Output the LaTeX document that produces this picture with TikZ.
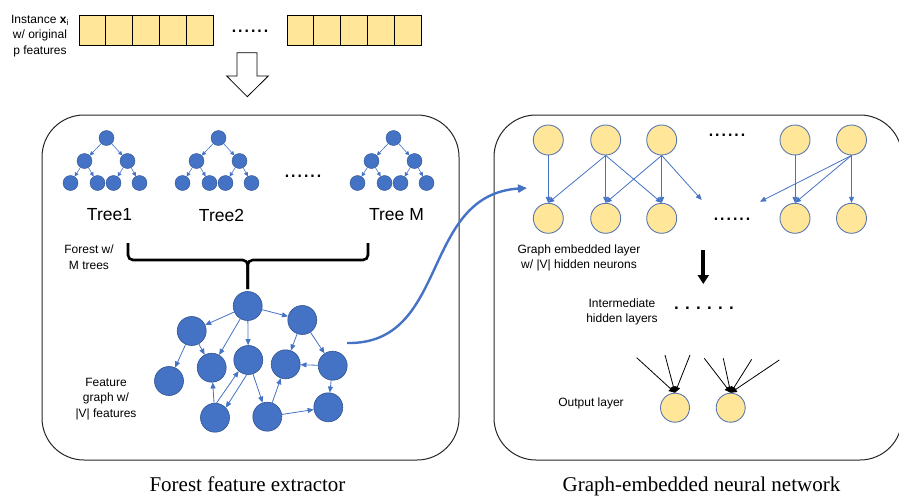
\documentclass[tikz,border=0pt]{standalone}
\usepackage{fontspec}
\setmainfont{Liberation Sans}
\newfontfamily\captionserif{Liberation Serif}
\usetikzlibrary{positioning, arrows.meta, calc}

\definecolor{nodeblue}{HTML}{4472C4}
\definecolor{nodeline}{HTML}{2F528F}
\definecolor{neuronfill}{HTML}{FFE699}
\definecolor{neuronline}{HTML}{5A78B0}

\tikzset{
    treenode/.style={circle, fill=nodeblue, draw=nodeline, line width=0.4pt, minimum size=15pt, inner sep=0pt},
    featnode/.style={circle, fill=nodeblue, draw=nodeline, line width=0.6pt, minimum size=29pt, inner sep=0pt},
    neuron/.style={circle, fill=neuronfill, draw=neuronline, line width=0.9pt, minimum size=30pt, inner sep=0pt},
    cell/.style={rectangle, fill=neuronfill, draw=black, line width=0.9pt, minimum width=26.8pt, minimum height=30pt, inner sep=0pt},
    treeedge/.style={-{Triangle[length=4pt,width=4pt]}, nodeblue, line width=0.6pt},
    blueedge/.style={-{Triangle[length=6pt,width=5pt]}, nodeblue, line width=0.8pt},
    inedge/.style={-{Triangle[length=6pt,width=6pt]}, black, line width=0.8pt},
    panel/.style={draw=black!85, line width=1pt, rounded corners=42pt},
    smalltext/.style={font=\fontsize{12}{15.5}\selectfont, align=center, inner sep=0pt},
    treetext/.style={font=\fontsize{17.5}{20}\selectfont, inner sep=0pt},
    captext/.style={font=\captionserif\fontsize{21}{24}\selectfont, inner sep=0pt, anchor=base},
    dotstext/.style={font=\fontsize{23}{23}\selectfont, inner sep=0pt},
}

% one small binary tree: #1 prefix, #2 root x, #3 label
\def\foresttree#1#2#3{%
    \node[treenode] (#1r) at (#2, 138) {};
    \node[treenode] (#1a) at (#2-22, 161) {};
    \node[treenode] (#1b) at (#2+21, 161) {};
    \node[treenode] (#1aa) at (#2-36, 183) {};
    \node[treenode] (#1ab) at (#2-9, 183) {};
    \node[treenode] (#1ba) at (#2+7, 183) {};
    \node[treenode] (#1bb) at (#2+33, 183) {};
    \foreach \pa/\ch in {r/a, r/b, a/aa, a/ab, b/ba, b/bb}
    {
        \draw[treeedge] (#1\pa) -- (#1\ch);
    }
    \node[treetext] (#1lab) at (#2+3, 215) {#3};
}

\begin{document}
\begin{tikzpicture}[x=1pt, y=-1pt]
    \useasboundingbox (0,0) rectangle (899,495);

    % input instance
    \node[smalltext, anchor=east] (instlab) at (69,36)
        {Instance \textbf{x}\textsubscript{i}\\w/ original\\p features};
    \foreach \i in {0,...,4}
    {
        \node[cell] (la\i) at (92.4+\i*26.8, 30) {};
        \node[cell] (lb\i) at (300.4+\i*26.8, 30) {};
    }
    \node[dotstext] (celldots) at (250,31) {......};

    % hollow arrow
    \draw[fill=white, line width=0.8pt] (237,52.7) -- (257,52.7) -- (257,76) -- (268.3,76)
        -- (247.3,96.7) -- (226.7,76) -- (237,76) -- cycle;

    % panels
    \node[panel, minimum width=417pt, minimum height=345pt] (forest) at (250.5,287.5) {};
    \node[panel, minimum width=408pt, minimum height=345pt] (gnn) at (698,287.5) {};
    \node[captext] (forestcap) at (247.5,491) {Forest feature extractor};
    \node[captext] (gnncap) at (701.5,491) {Graph-embedded neural network};

    % trees
    \foresttree{ta}{106.5}{Tree1}
    \foresttree{tb}{218.5}{Tree2}
    \foresttree{tm}{393.5}{Tree M}
    \node[dotstext] (treedots) at (303,176) {......};

    % brace
    \node[smalltext] (forestlab) at (89,257) {Forest w/\\M trees};
    \draw[line width=2.6pt, rounded corners=5pt] (128,243) -- (128,260) -- (247.7,260) -- (247.7,289);
    \draw[line width=2.6pt, rounded corners=5pt] (368,243) -- (368,260) -- (247.7,260) -- (247.7,289);

    % feature graph
    \foreach \n/\x/\y in {fa/247.7/306, fb/191.7/331, fc/302.3/320, fd/169/381, fe/211.7/367.7,
        ff/248.3/360, fg/285.7/364.3, fh/332.7/365.7, fi/215/417.7, fj/267.3/416.7, fk/328.3/407.3}
    {
        \node[featnode] (\n) at (\x,\y) {};
    }
    \foreach \src/\dst in {fa/fb, fa/fe, fa/ff, fa/fc, fb/fd, fb/fe, fc/fg, fc/fh,
        fh/fg, fh/fk, fi/fe, ff/fj, fj/fg, fj/fk}
    {
        \draw[blueedge] (\src) -- (\dst);
    }
    \draw[blueedge] (fi.84) -- (ff.229);
    \draw[blueedge] (ff.264) -- (fi.43);
    \node[smalltext] (graphlab) at (106,399) {Feature\\graph w/\\|V| features};

    % link between panels
    \coordinate (linkstart) at (347,343);
    \coordinate (linkend) at (527,188);
    \draw[-{Triangle[length=9pt,width=8pt]}, nodeblue, line width=2.4pt]
        (linkstart) .. controls (450,345) and (420,195) .. (linkend);

    % graph embedded layer
    \foreach \n/\x in {1/548.3, 2/605.7, 3/661.7, 4/795, 5/851.5}
    {
        \node[neuron] (t\n) at (\x,140) {};
        \node[neuron] (b\n) at (\x,218.3) {};
    }
    \node[dotstext] (topdots) at (727,135) {......};
    \node[dotstext] (botdots) at (732,219) {......};
    \coordinate (gapa) at (701.7,200);
    \coordinate (gapb) at (760,201.7);
    \foreach \src/\dst in {t1/b1, t2/b1, t2/b2, t2/b3, t3/b2, t3/b3, t4/b4, t5/b4, t5/b5}
    {
        \draw[blueedge] (\src.south) -- (\dst.north);
    }
    \draw[blueedge] (t3.south) -- (gapa);
    \draw[blueedge] (t5.south) -- (gapb);
    \node[smalltext] (gellab) at (579,258) {Graph embedded layer\\w/ |V| hidden neurons};

    % down to hidden layers
    \coordinate (downtop) at (703.3,250);
    \coordinate (downtip) at (703.3,284);
    \draw[-{Triangle[length=9pt,width=11pt]}, line width=4pt] (downtop) -- (downtip);
    \node[smalltext] (hidlab) at (622,312) {Intermediate\\hidden layers};
    \node[font=\fontsize{17}{17}\selectfont\bfseries, inner sep=0pt] (hiddots) at (704,308) {. . . . . .};

    % output layer
    \node[smalltext] (outlab) at (591,403) {Output layer};
    \node[neuron, minimum size=29pt] (o1) at (675,407.7) {};
    \node[neuron, minimum size=29pt] (o2) at (730.7,407.7) {};
    \foreach \n/\x/\y/\dst in {i1/636.7/357.7/o1, i2/665/355/o1, i3/690/355/o1,
        i4/704.3/358.3/o2, i5/723.3/358.3/o2, i6/751.7/359.3/o2, i7/779.3/360/o2}
    {
        \coordinate (\n) at (\x,\y);
        \draw[inedge] (\n) -- (\dst.north);
    }
\end{tikzpicture}
\end{document}
